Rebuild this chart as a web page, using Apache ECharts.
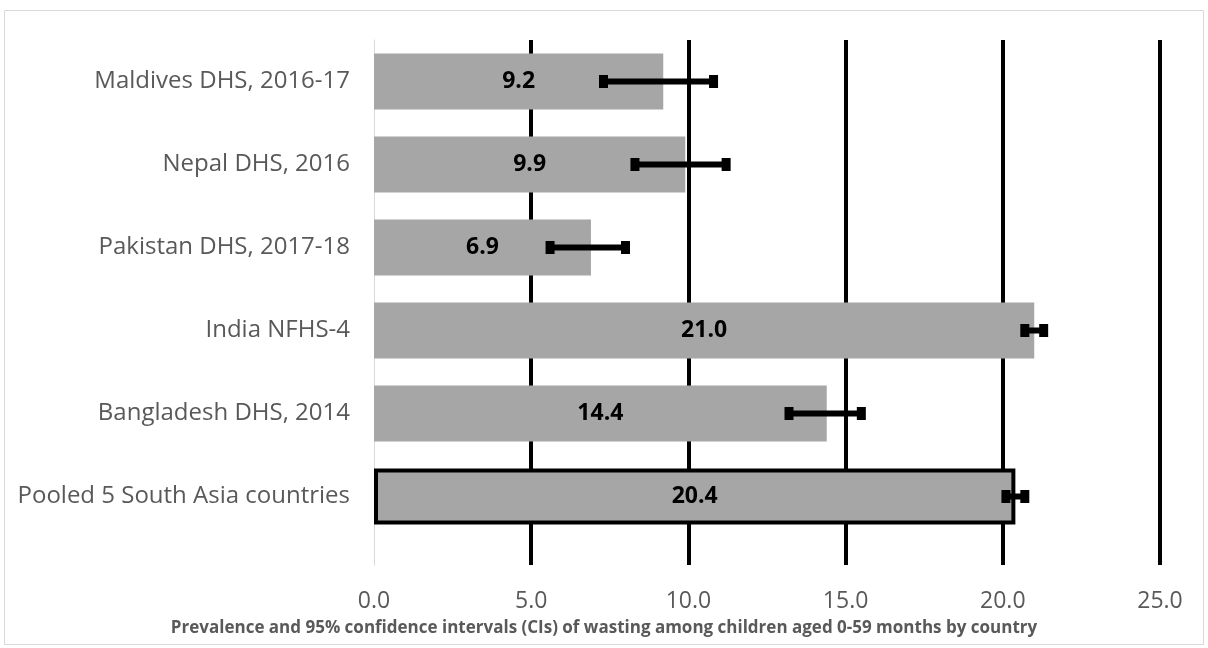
<!DOCTYPE html>
<html>
<head>
<meta charset="utf-8">
<script src="https://cdn.jsdelivr.net/npm/echarts@6/dist/echarts.min.js"></script>
<style>
  html, body { margin: 0; padding: 0; background: #fff; }
  #chart { width: 1208px; height: 648px; }
</style>
</head>
<body>
<div id="chart"></div>
<script>
// Wasting prevalence (%) by survey, with 95% confidence intervals
const categories = [
  'Maldives DHS, 2016-17',
  'Nepal DHS, 2016',
  'Pakistan DHS, 2017-18',
  'India NFHS-4',
  'Bangladesh DHS, 2014',
  'Pooled 5 South Asia countries'
];
const prevalence = [9.2, 9.9, 6.9, 21.0, 14.4, 20.4];
const ciLower = [7.3, 8.3, 5.6, 20.7, 13.2, 20.1];
const ciUpper = [10.8, 11.2, 8.0, 21.3, 15.5, 20.7];
const xTicks = [0, 5, 10, 15, 20, 25];
const pooledIndex = 5;

const FONT = '"Open Sans", "Noto Sans", sans-serif';
const GREY_TEXT = '#595959';
const X_MIN = xTicks[0];
const X_MAX = xTicks[xTicks.length - 1];
const X_STEP = xTicks[1] - xTicks[0];

const chart = echarts.init(document.getElementById('chart'), null, { renderer: 'canvas' });

const barData = prevalence.map((v, i) => ({
  value: v,
  itemStyle: i === pooledIndex
    ? { color: '#a6a6a6', borderColor: '#000', borderWidth: 4 }
    : { color: '#a6a6a6' }
}));

const ciData = categories.map((c, i) => [ciLower[i], ciUpper[i], i]);

chart.setOption({
  animation: false,
  backgroundColor: '#fff',
  graphic: [{
    type: 'rect',
    shape: { x: 4.5, y: 10.5, width: 1199, height: 634 },
    style: { fill: 'none', stroke: '#d9d9d9', lineWidth: 1 },
    silent: true,
    z: -10
  }],
  title: {
    text: 'Prevalence and 95% confidence intervals (CIs) of wasting among children aged 0-59 months by country',
    left: 'center',
    top: 615,
    textStyle: { fontFamily: FONT, fontSize: 17, fontWeight: 'bold', color: GREY_TEXT }
  },
  // grid 0 holds the bars; grid 1 carries the taller gridlines and tick labels
  grid: [
    { left: 374, right: 48, top: 40, bottom: 110 },
    { left: 374, right: 48, top: 40, bottom: 83 }
  ],
  xAxis: [
    {
      gridIndex: 0,
      type: 'value',
      min: X_MIN, max: X_MAX, interval: X_STEP,
      show: false,
      splitLine: { show: false }
    },
    {
      gridIndex: 1,
      type: 'value',
      min: X_MIN, max: X_MAX, interval: X_STEP,
      axisLine: { show: false },
      axisTick: { show: false },
      axisLabel: {
        margin: 25,
        fontFamily: FONT,
        fontSize: 23,
        color: GREY_TEXT,
        formatter: v => v.toFixed(1)
      },
      splitLine: { show: true, showMinLine: false, lineStyle: { color: '#000', width: 4 } }
    }
  ],
  yAxis: [
    {
      gridIndex: 0,
      type: 'category',
      data: categories,
      inverse: true,
      axisLine: { show: false },
      axisTick: { show: false },
      axisLabel: {
        margin: 24,
        fontFamily: FONT,
        fontSize: 24,
        color: GREY_TEXT
      }
    },
    {
      gridIndex: 1,
      type: 'value',
      min: 0, max: 1,
      axisLine: { show: true, lineStyle: { color: '#d9d9d9', width: 1 } },
      axisTick: { show: false },
      axisLabel: { show: false },
      splitLine: { show: false }
    }
  ],
  series: [
    {
      type: 'bar',
      xAxisIndex: 0,
      yAxisIndex: 0,
      data: barData,
      barWidth: 56,
      z: 2,
      label: {
        show: true,
        position: 'inside',
        fontFamily: FONT,
        fontSize: 23,
        fontWeight: 'bold',
        color: '#000',
        formatter: p => Number(p.value).toFixed(1)
      }
    },
    {
      type: 'custom',
      xAxisIndex: 0,
      yAxisIndex: 0,
      data: ciData,
      z: 5,
      encode: { x: [0, 1], y: 2 },
      renderItem: function (params, api) {
        const lo = api.coord([api.value(0), api.value(2)]);
        const hi = api.coord([api.value(1), api.value(2)]);
        const y = lo[1];
        const capW = 9, capH = 13;
        return {
          type: 'group',
          children: [
            {
              type: 'line',
              shape: { x1: lo[0], y1: y, x2: hi[0], y2: y },
              style: { stroke: '#000', lineWidth: 6 }
            },
            {
              type: 'rect',
              shape: { x: lo[0] - capW / 2, y: y - capH / 2, width: capW, height: capH },
              style: { fill: '#000' }
            },
            {
              type: 'rect',
              shape: { x: hi[0] - capW / 2, y: y - capH / 2, width: capW, height: capH },
              style: { fill: '#000' }
            }
          ]
        };
      }
    }
  ]
});
</script>
</body>
</html>
